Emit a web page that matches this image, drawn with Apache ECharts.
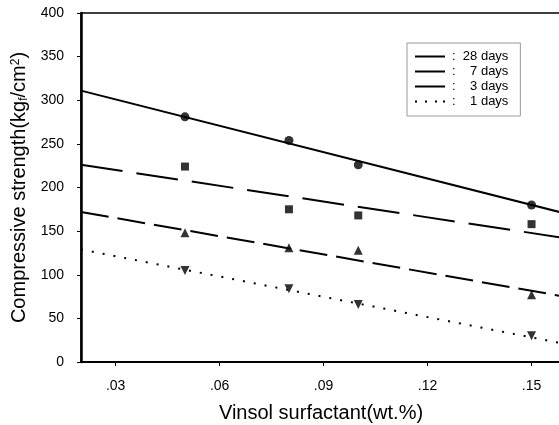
<!DOCTYPE html>
<html>
<head>
<meta charset="utf-8">
<script src="https://cdn.jsdelivr.net/npm/echarts@6/dist/echarts.min.js"></script>
<style>
  html, body { margin: 0; padding: 0; background: #fff; }
  #chart { width: 559px; height: 425px; }
</style>
</head>
<body>
<div id="chart"></div>
<script>
// measured points (wt.% surfactant)
var xPoints = [0.05, 0.08, 0.10, 0.15];
var days28 = [281, 254, 226, 180];
var days7 = [224, 175, 168, 158];
var days3 = [148, 131, 128, 77];
var days1 = [105, 84, 66, 30];

// fitted trend lines, read at the left and right edges of the plot
var fitX = [0.02, 0.158];
var fit28 = [311, 172];
var fit7 = [226, 143];
var fit3 = [172, 76];
var fit1 = [129, 22];

var xTicks = [0.03, 0.06, 0.09, 0.12, 0.15];
var legendNames = ['28 days', '7 days', '3 days', '1 days'];

function pairs(xs, ys) {
    return xs.map(function (x, i) { return [x, ys[i]]; });
}

var font = 'Liberation Sans, Arial, sans-serif';
var solidIcon = 'path://M0,0H30V2H0Z';
var dotIcon = 'path://M0,0H2V2H0Z M10,0H12V2H10Z M20,0H22V2H20Z M28,0H30V2H28Z';

var chartDom = document.getElementById('chart');
var myChart = echarts.init(chartDom);

function fitSeries(name, ys, type, width) {
    return {
        name: name,
        type: 'line',
        data: pairs(fitX, ys),
        showSymbol: false,
        symbol: 'none',
        silent: true,
        itemStyle: { color: '#000' },
        lineStyle: { color: '#000', width: width, type: type }
    };
}

function pointSeries(ys, symbol, size, rotate) {
    return {
        type: 'scatter',
        data: pairs(xPoints, ys),
        symbol: symbol,
        symbolSize: size,
        symbolRotate: rotate || 0,
        itemStyle: { color: '#000' },
        z: 5
    };
}

var option = {
    animation: false,
    textStyle: { fontFamily: font },
    grid: {
        left: 81, right: -2, top: 13, bottom: 63,
        outerBoundsMode: 'none',
        containLabel: false,
        show: true, borderColor: '#000', borderWidth: 1.5
    },
    legend: {
        data: legendNames.map(function (n) {
            return { name: n, icon: n === '1 days' ? dotIcon : solidIcon };
        }),
        orient: 'vertical',
        left: 407, top: 43,
        padding: [7, 12, 8, 8],
        itemGap: 2,
        itemWidth: 30,
        itemHeight: 2,
        borderColor: '#999',
        borderWidth: 1,
        textStyle: { fontSize: 13, color: '#000', fontFamily: font, padding: [0, 0, 0, 2] },
        formatter: function (name) {
            return name.length < 7 ? ':    ' + name : ':  ' + name;
        }
    },
    xAxis: {
        type: 'value',
        min: 0.02,
        max: 0.1585,
        splitLine: { show: false },
        axisLine: { onZero: false, lineStyle: { color: '#000', width: 2 } },
        axisTick: { show: true, length: 4, customValues: xTicks, lineStyle: { color: '#000' } },
        axisLabel: {
            customValues: xTicks,
            color: '#000', fontSize: 14, margin: 17,
            formatter: function (v) { return v.toFixed(2).replace(/^0/, ''); }
        },
        name: 'Vinsol surfactant(wt.%)',
        nameLocation: 'middle',
        nameGap: 41,
        nameTextStyle: { color: '#000', fontSize: 20 }
    },
    yAxis: {
        type: 'value',
        min: 0,
        max: 400,
        interval: 50,
        splitLine: { show: false },
        axisLine: { show: true, lineStyle: { color: '#000', width: 2.5 } },
        axisTick: { show: true, length: 4, lineStyle: { color: '#000' } },
        axisLabel: { color: '#000', fontSize: 14, margin: 17 },
        name: '{a|Compressive strength(kg}{sub|f}{a|/cm}{sup|2}{a|)}',
        nameLocation: 'middle',
        nameGap: 51,
        nameTextStyle: {
            color: '#000',
            rich: {
                a: { fontSize: 20, color: '#000', fontFamily: font },
                sub: { fontSize: 12, color: '#000', fontFamily: font, verticalAlign: 'bottom', padding: [8, 0, 0, 0] },
                sup: { fontSize: 12, color: '#000', fontFamily: font, verticalAlign: 'top', padding: [0, 0, 8, 0] }
            }
        }
    },
    series: [
        fitSeries('28 days', fit28, 'solid', 2),
        fitSeries('7 days', fit7, [42, 14], 2),
        fitSeries('3 days', fit3, [28, 9], 2),
        fitSeries('1 days', fit1, [2, 9], 2),
        pointSeries(days28, 'circle', 9),
        pointSeries(days7, 'rect', 8),
        pointSeries(days3, 'triangle', 9),
        pointSeries(days1, 'triangle', 9, 180)
    ]
};
myChart.setOption(option);
</script>
</body>
</html>
